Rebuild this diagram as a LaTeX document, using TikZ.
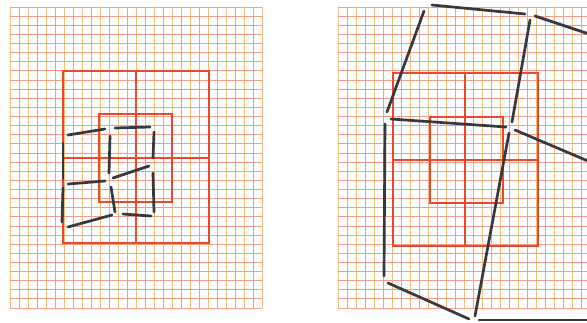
\documentclass[tikz,border=0pt]{standalone}
\definecolor{gridv}{RGB}{246,186,125}
\definecolor{gridp}{RGB}{243,155,158}
\definecolor{gridh}{RGB}{244,158,138}
\definecolor{redsq}{RGB}{236,72,48}
\definecolor{ink}{RGB}{55,55,62}
\begin{document}
\begin{tikzpicture}[x=1pt,y=-1pt,
  gv/.style={gridv,line width=0.7pt},
  gp/.style={gridp,line width=0.7pt},
  gh/.style={gridh,line width=0.7pt},
  redl/.style={redsq,line width=2pt},
  stick/.style={ink,line width=2.7pt,line cap=round}]
\useasboundingbox (0,0) rectangle (587,322);
\fill[white] (0,0) rectangle (587,322);
% ---------- left grid ----------
\foreach \i in {0,2,...,28} \draw[gv] ({10+9*\i},7) -- ({10+9*\i},308);
\foreach \i in {1,3,...,27} \draw[gp] ({10+9*\i},7) -- ({10+9*\i},308);
\foreach \j in {0,...,33} \draw[gh] (10,{7+9.12*\j}) -- (262,{7+9.12*\j});
% ---------- right grid ----------
\begin{scope}
\clip (0,0) rectangle (587,322);
\foreach \i in {0,2,...,28} \draw[gv] ({338+9*\i},7) -- ({338+9*\i},308);
\foreach \i in {1,3,...,27} \draw[gp] ({338+9*\i},7) -- ({338+9*\i},308);
\foreach \j in {0,...,33} \draw[gh] (338,{7+9.12*\j}) -- (590,{7+9.12*\j});
\end{scope}
% ---------- left red frames ----------
\draw[redl] (63,71) rectangle (209,243);
\draw[redl] (136,71) -- (136,243);
\draw[redl] (63,158) -- (209,158);
\draw[redl] (99,114) rectangle (172,202);
% ---------- right red frames ----------
\draw[redl] (393,73) rectangle (538,246);
\draw[redl] (465,73) -- (465,246);
\draw[redl] (393,160) -- (538,160);
\draw[redl] (430,117) rectangle (503,203);
% ---------- left sticks ----------
\draw[stick] (68,135) -- (105,129);
\draw[stick] (115,128) -- (150,127);
\draw[stick] (63,143) -- (63,179);
\draw[stick] (110,136) -- (109,173);
\draw[stick] (154,132) -- (153,158);
\draw[stick] (68,184) -- (105,181);
\draw[stick] (113,178) -- (149,166);
\draw[stick] (153,173) -- (154,212);
\draw[stick] (63,188) -- (62,222);
\draw[stick] (111,187) -- (115,212);
\draw[stick] (68,227) -- (112,215);
\draw[stick] (123,214) -- (151,216);
% ---------- right sticks ----------
\begin{scope}
\clip (0,0) rectangle (587,322);
\draw[stick] (424,11) -- (387,112);
\draw[stick] (432,5) -- (525,14);
\draw[stick] (535,16) -- (595,36);
\draw[stick] (530,20) -- (512,122);
\draw[stick] (391,119) -- (506,127);
\draw[stick] (515,130) -- (595,164);
\draw[stick] (385,124) -- (384,276);
\draw[stick] (509,133) -- (475,316);
\draw[stick] (388,283) -- (469,319);
\draw[stick] (479,320) -- (595,320);
\end{scope}
\end{tikzpicture}
\end{document}
